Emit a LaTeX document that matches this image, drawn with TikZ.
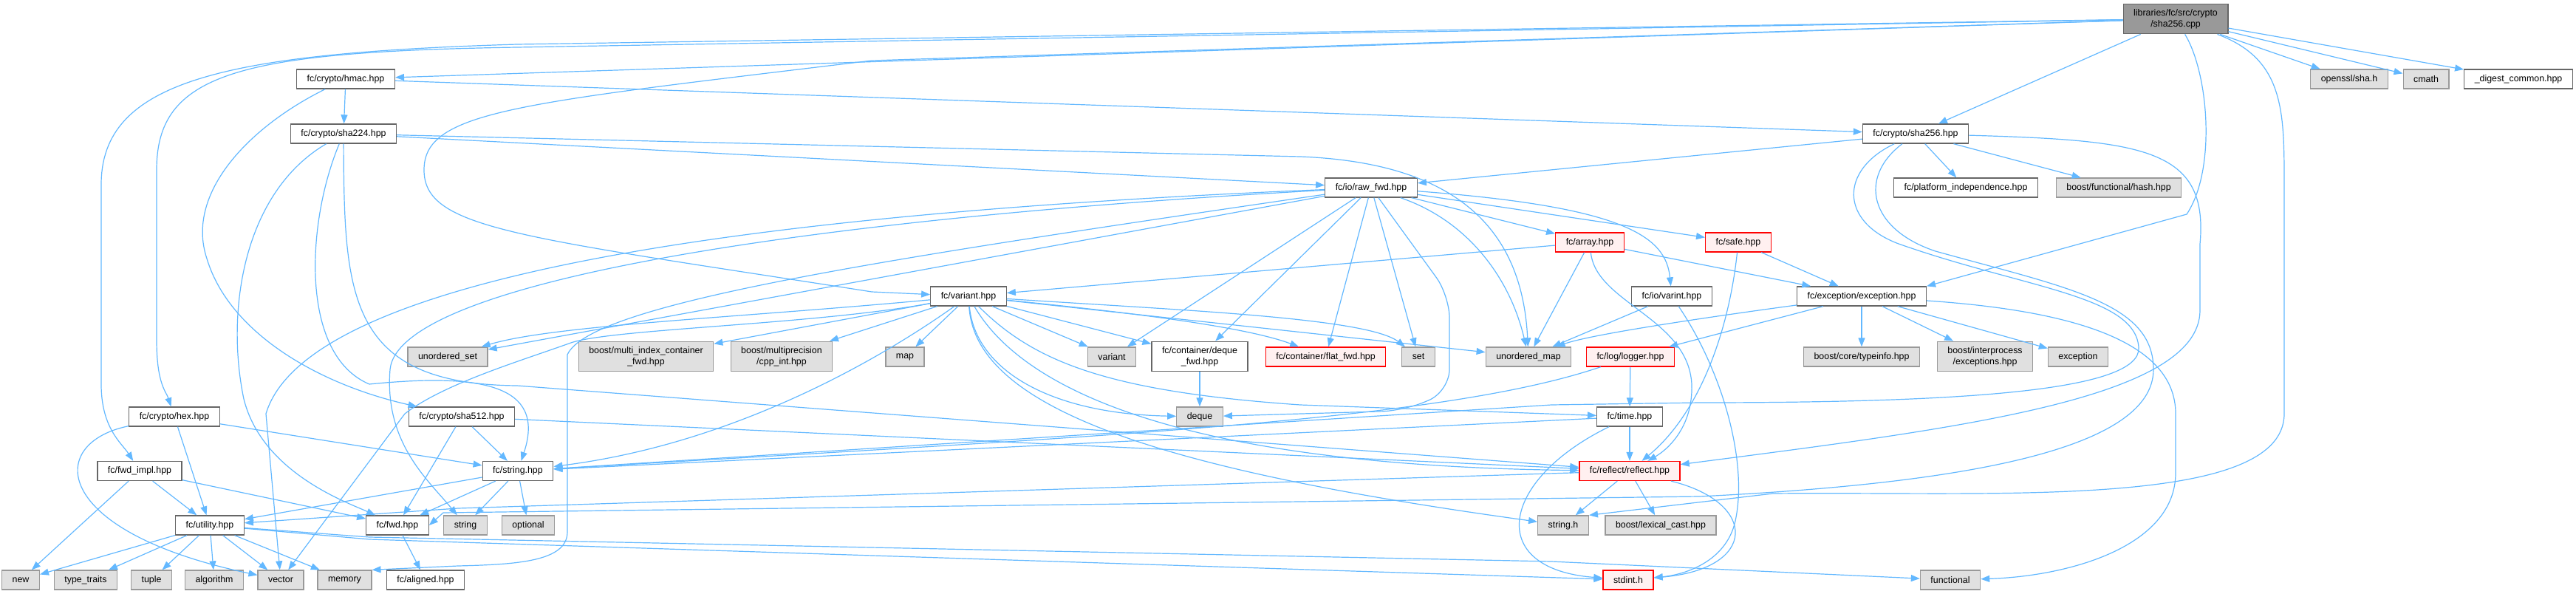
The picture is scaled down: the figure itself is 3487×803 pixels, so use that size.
\documentclass[tikz,border=0pt]{standalone}
\usepackage{fontspec}
\setmainfont{Liberation Sans}
\usetikzlibrary{arrows.meta}
\definecolor{edgeblue}{HTML}{63B8FF}
\definecolor{hdrline}{HTML}{666666}
\definecolor{sysfill}{HTML}{E0E0E0}
\definecolor{sysline}{HTML}{999999}
\definecolor{redfill}{HTML}{FFF0F0}
\definecolor{rootfill}{HTML}{999999}

\begin{document}
\begin{tikzpicture}[x=1pt, y=-1pt,
  hdr/.style={draw=hdrline, fill=white, line width=1.3pt, minimum height=26pt,
    inner xsep=14pt, inner ysep=7pt, align=center, font=\fontsize{12.4}{15}\selectfont},
  syshdr/.style={hdr, draw=sysline, fill=sysfill},
  redhdr/.style={hdr, draw=red, fill=redfill},
  srcfile/.style={hdr, fill=rootfill},
  incl/.style={draw=edgeblue, line width=1.2pt, -{Triangle[length=12pt,width=9pt]}}
]
\useasboundingbox (0,0) rectangle (3487,803);

\node[srcfile] (r) at (2945,25.5) {libraries/fc/src/crypto\\/sha256.cpp};
\node[hdr] (hmac) at (468,107) {fc/crypto/hmac.hpp};
\node[syshdr] (openssl) at (3180,107) {openssl/sha.h};
\node[syshdr] (cmath) at (3284,107) {cmath};
\node[hdr] (digest) at (3409,107) {\_digest\_common.hpp};
\node[hdr] (sha224) at (465,181) {fc/crypto/sha224.hpp};
\node[hdr] (sha256h) at (2593,181) {fc/crypto/sha256.hpp};
\node[hdr] (rawfwd) at (1856,254) {fc/io/raw\_fwd.hpp};
\node[hdr] (platind) at (2661,254) {fc/platform\_independence.hpp};
\node[syshdr] (fhash) at (2868,254) {boost/functional/hash.hpp};
\node[redhdr] (array) at (2152,328) {fc/array.hpp};
\node[redhdr] (safe) at (2353,328) {fc/safe.hpp};
\node[hdr] (variant) at (1311,401) {fc/variant.hpp};
\node[hdr] (varint) at (2263,401) {fc/io/varint.hpp};
\node[hdr] (exc) at (2520,401) {fc/exception/exception.hpp};
\node[syshdr] (uset) at (606,483) {unordered\_set};
\node[syshdr] (midx) at (874.5,482.5) {boost/multi\_index\_container\\\_fwd.hpp};
\node[syshdr] (cppint) at (1058,482.5) {boost/multiprecision\\/cpp\_int.hpp};
\node[syshdr] (map) at (1225,483) {map};
\node[syshdr] (varstd) at (1505,483) {variant};
\node[hdr] (dqfwd) at (1624,482.5) {fc/container/deque\\\_fwd.hpp};
\node[redhdr] (flatfwd) at (1794.5,483) {fc/container/flat\_fwd.hpp};
\node[syshdr] (stdset) at (1920,483) {set};
\node[syshdr] (umap) at (2069,483) {unordered\_map};
\node[redhdr] (logger) at (2207,483) {fc/log/logger.hpp};
\node[syshdr] (typeinfo) at (2520,483) {boost/core/typeinfo.hpp};
\node[syshdr] (interproc) at (2687,482.5) {boost/interprocess\\/exceptions.hpp};
\node[syshdr] (stdexc) at (2813,483) {exception};
\node[hdr] (hex) at (236,564) {fc/crypto/hex.hpp};
\node[hdr] (sha512) at (625,564) {fc/crypto/sha512.hpp};
\node[syshdr] (deque) at (1624,564) {deque};
\node[hdr] (time) at (2206,564) {fc/time.hpp};
\node[hdr] (fwdimpl) at (189,637.5) {fc/fwd\_impl.hpp};
\node[hdr] (stringhpp) at (701,637.5) {fc/string.hpp};
\node[redhdr] (reflect) at (2206,637.5) {fc/reflect/reflect.hpp};
\node[hdr] (utility) at (284,711) {fc/utility.hpp};
\node[hdr] (fwd) at (538,711) {fc/fwd.hpp};
\node[syshdr] (stringstd) at (630,711) {string};
\node[syshdr] (optional) at (715,711) {optional};
\node[syshdr] (stringh) at (2116,711) {string.h};
\node[syshdr] (lexcast) at (2248,711) {boost/lexical\_cast.hpp};
\node[syshdr] (new) at (28,785) {new};
\node[syshdr] (typetraits) at (116,785) {type\_traits};
\node[syshdr] (tuple) at (205,785) {tuple};
\node[syshdr] (algorithm) at (290,785) {algorithm};
\node[syshdr] (vector) at (380,785) {vector};
\node[syshdr] (memory) at (466.5,785) {memory};
\node[hdr] (aligned) at (576,785) {fc/aligned.hpp};
\node[redhdr] (stdint) at (2204,785) {stdint.h};
\node[syshdr] (functional) at (2640,785) {functional};

% the source file
\draw[incl] (r) -- (hmac);
\draw[incl] (r) -- (700,64) .. controls (320,70) and (212,100) .. (212,230) -- (212,460) .. controls (212,520) and (225,530) .. (hex);
\draw[incl] (r) -- (700,60) .. controls (300,72) and (137,110) .. (137,250) -- (137,520) .. controls (137,580) and (165,600) .. (fwdimpl);
\draw[incl] (r) -- (1180,82) .. controls (700,140) and (574,150) .. (574,230) .. controls (574,310) and (700,320) .. (1180,395) -- (variant);
\draw[incl] (r) -- (sha256h);
\draw[incl] (r) -- (openssl);
\draw[incl] (r) -- (cmath);
\draw[incl] (r) -- (digest);
\draw[incl] (r) .. controls (2990,100) and (3000,230) .. (2960,290) -- (exc.north east);
\draw[incl] (r) .. controls (3092,80) and (3092,150) .. (3092,250) -- (3092,560) .. controls (3092,690) and (2700,665) .. (2400,668) -- (stringh.north east);

% crypto headers
\draw[incl] (hmac) -- (sha224);
\draw[incl] (hmac) -- (sha256h);
\draw[incl] (hmac) .. controls (340,170) and (250,260) .. (280,350) .. controls (310,450) and (430,520) .. (sha512);
\draw[incl] (sha224) -- (rawfwd);
\draw[incl] (sha224) -- (1760,212) .. controls (1960,220) and (2060,300) .. (umap);
\draw[incl] (sha224) .. controls (330,260) and (305,420) .. (330,540) .. controls (355,640) and (470,680) .. (fwd);
\draw[incl] (sha224) .. controls (415,300) and (405,480) .. (500,520) .. controls (650,505) and (740,520) .. (stringhpp);
\draw[incl] (sha224) .. controls (466,400) and (470,520) .. (700,522) -- (reflect);
\draw[incl] (sha256h) -- (rawfwd);
\draw[incl] (sha256h) -- (platind);
\draw[incl] (sha256h) -- (fhash);
\draw[incl] (sha256h) .. controls (2515,240) and (2530,310) .. (2620,340) .. controls (2800,390) and (2915,410) .. (2915,500) .. controls (2915,610) and (2650,655) .. (2300,672) -- (600,694) -- (fwd.east);
\draw[incl] (sha256h) .. controls (2490,230) and (2490,300) .. (2570,330) .. controls (2740,390) and (2890,400) .. (2895,470) .. controls (2900,530) and (2650,545) .. (2300,545) -- (2100,548) -- (stringhpp);
\draw[incl] (sha256h) .. controls (2900,190) and (2990,200) .. (2978,330) -- (2978,420) .. controls (2978,540) and (2650,580) .. (reflect);
\draw[incl] (hex) -- (stringhpp);
\draw[incl] (hex) -- (utility);
\draw[incl] (hex) .. controls (60,600) and (70,720) .. (vector);
\draw[incl] (fwdimpl) -- (fwd);
\draw[incl] (fwdimpl) -- (utility);
\draw[incl] (fwdimpl) -- (new);
\draw[incl] (sha512) -- (stringhpp);
\draw[incl] (sha512) -- (fwd);
\draw[incl] (sha512) -- (reflect);

% raw_fwd.hpp
\draw[incl] (rawfwd) -- (uset);
\draw[incl] (rawfwd) .. controls (1100,285) and (420,360) .. (360,560) -- (vector);
\draw[incl] (rawfwd) .. controls (1200,350) and (800,410) .. (768,480) -- (768,720) .. controls (768,760) and (700,764) .. (620,766) -- (memory.north east);
\draw[incl] (rawfwd) .. controls (1100,295) and (540,380) .. (528,500) .. controls (520,600) and (580,650) .. (stringstd);
\draw[incl] (rawfwd) -- (varstd);
\draw[incl] (rawfwd) -- (dqfwd);
\draw[incl] (rawfwd) -- (flatfwd);
\draw[incl] (rawfwd) -- (stdset);
\draw[incl] (rawfwd) .. controls (1990,300) and (2045,380) .. (umap);
\draw[incl, rounded corners=30pt] (rawfwd) -- (1962,400) -- (1962,530) -- (1900,556) -- (deque);
\draw[incl] (rawfwd) -- (array);
\draw[incl] (rawfwd) -- (safe);
\draw[incl] (rawfwd) .. controls (2200,280) and (2255,320) .. (varint);

% variant.hpp
\draw[incl] (variant) .. controls (1000,430) and (750,440) .. (uset);
\draw[incl] (variant) -- (midx);
\draw[incl] (variant) -- (cppint);
\draw[incl] (variant) -- (map);
\draw[incl] (variant) -- (varstd);
\draw[incl] (variant) -- (dqfwd);
\draw[incl] (variant) .. controls (1500,420) and (1680,440) .. (flatfwd);
\draw[incl] (variant) .. controls (1600,420) and (1850,430) .. (stdset);
\draw[incl] (variant) -- (umap);
\draw[incl] (variant) .. controls (1320,500) and (1420,560) .. (deque);
\draw[incl] (variant) .. controls (1200,480) and (1000,600) .. (stringhpp);
\draw[incl] (variant) .. controls (1380,520) and (1580,630) .. (reflect);
\draw[incl] (variant) .. controls (1100,440) and (820,445) .. (770,465) .. controls (700,490) and (600,520) .. (548,560) -- (vector);
\draw[incl] (variant) .. controls (1320,560) and (1600,640) .. (stringh);
\draw[incl] (variant) .. controls (1400,490) and (1500,530) .. (1760,548) -- (time);

% fc helpers
\draw[incl] (array) -- (variant);
\draw[incl] (array) -- (umap);
\draw[incl] (array) -- (exc);
\draw[incl] (array) .. controls (2160,410) and (2285,430) .. (2290,520) .. controls (2292,580) and (2255,610) .. (reflect);
\draw[incl] (safe) -- (exc);
\draw[incl] (safe) .. controls (2340,450) and (2300,560) .. (reflect);
\draw[incl] (varint) -- (umap);
\draw[incl] (varint) .. controls (2330,500) and (2365,620) .. (2350,700) .. controls (2340,760) and (2280,778) .. (stdint);
\draw[incl] (exc) -- (typeinfo);
\draw[incl] (exc) -- (interproc);
\draw[incl] (exc) -- (stdexc);
\draw[incl] (exc) .. controls (2380,420) and (2160,450) .. (umap);
\draw[incl] (exc) -- (logger);
\draw[incl] (exc) .. controls (2800,420) and (2945,460) .. (2945,560) -- (2945,640) .. controls (2945,740) and (2800,780) .. (functional);
\draw[incl] (logger) -- (time);
\draw[incl] (logger) .. controls (1950,570) and (1500,590) .. (stringhpp);
\draw[incl] (time) -- (reflect);
\draw[incl] (time) -- (stringhpp);
\draw[incl] (time) .. controls (2030,650) and (2010,770) .. (stdint);
\draw[incl] (reflect) -- (stringh);
\draw[incl] (reflect) -- (lexcast);
\draw[incl] (reflect) .. controls (2380,680) and (2380,770) .. (stdint);
\draw[incl] (reflect) -- (620,688) -- (utility);
\draw[incl] (dqfwd) -- (deque);
\draw[incl] (stringhpp) -- (fwd);
\draw[incl] (stringhpp) -- (utility);
\draw[incl] (stringhpp) -- (stringstd);
\draw[incl] (stringhpp) -- (optional);
\draw[incl] (fwd) -- (aligned);
\draw[incl] (utility) -- (new);
\draw[incl] (utility) -- (typetraits);
\draw[incl] (utility) -- (tuple);
\draw[incl] (utility) -- (algorithm);
\draw[incl] (utility) -- (vector);
\draw[incl] (utility) -- (memory);
\draw[incl] (utility) -- (500,730) -- (stdint);
\draw[incl] (utility) -- (500,727) -- (2100,760) -- (functional);
\end{tikzpicture}
\end{document}
